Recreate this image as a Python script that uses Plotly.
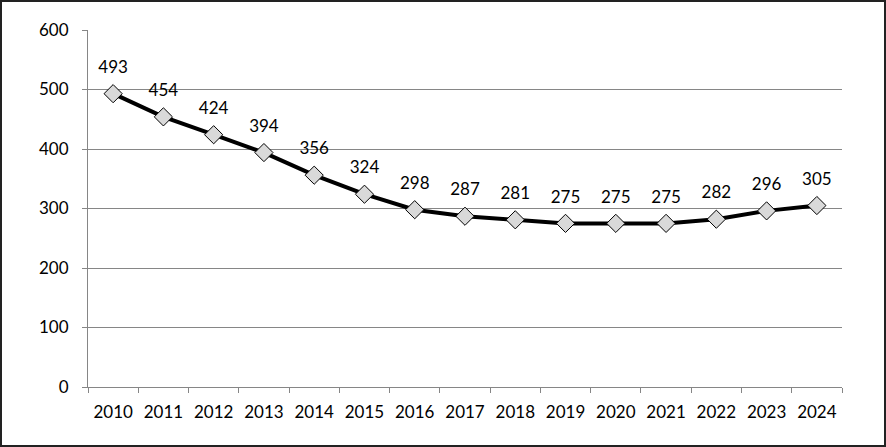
import plotly.graph_objects as go

years = [str(y) for y in range(2010, 2025)]
values = [493, 454, 424, 394, 356, 324, 298, 287, 281, 275, 275, 275, 282, 296, 305]
y_ticks = [0, 100, 200, 300, 400, 500, 600]

W, H = 886, 447
ml, mr, mt, mb = 88, 44, 30, 60
pw, ph = W - ml - mr, H - mt - mb
FONT = "Lato, Open Sans, sans-serif"

fig = go.Figure()
fig.add_trace(go.Scatter(
    x=years, y=values, mode="lines+markers",
    line=dict(color="black", width=4),
    marker=dict(symbol="diamond", size=14, color="#d9d9d9", line=dict(color="black", width=1)),
    showlegend=False, cliponaxis=False, hoverinfo="skip",
))
# data labels (invisible larger markers push labels up)
fig.add_trace(go.Scatter(
    x=years, y=values, mode="markers+text",
    marker=dict(size=25, color="rgba(0,0,0,0)"),
    text=[str(v) for v in values], textposition="top center",
    textfont=dict(family=FONT, size=17, color="black"),
    showlegend=False, cliponaxis=False, hoverinfo="skip",
))
fig.update_layout(
    width=W, height=H, margin=dict(l=ml, r=mr, t=mt, b=mb),
    paper_bgcolor="white", plot_bgcolor="white",
    font=dict(family=FONT, size=17, color="black"),
    xaxis=dict(type="category", range=[-0.5, 14.5], showgrid=False, showline=True,
               linecolor="#868686", linewidth=1, ticks="outside", tickson="boundaries",
               ticklen=5, tickcolor="#868686", ticklabelstandoff=10),
    yaxis=dict(range=[0, 600], tickvals=y_ticks, showgrid=True, gridcolor="#868686",
               gridwidth=1, showline=True, linecolor="#868686", linewidth=1,
               zeroline=False, ticks="outside", ticklen=5, tickcolor="#868686",
               ticklabelstandoff=10),
)
# outer border of the chart
fig.add_shape(type="rect", xref="paper", yref="paper",
              x0=-(ml - 1) / pw, x1=1 + (mr - 1) / pw,
              y0=-(mb - 1) / ph, y1=1 + (mt - 1) / ph,
              line=dict(color="#222222", width=2), fillcolor="rgba(0,0,0,0)", layer="above")
fig.write_html("out.html", config={"displayModeBar": False},
               post_script="document.body.style.margin='0';document.body.style.overflow='hidden';")
